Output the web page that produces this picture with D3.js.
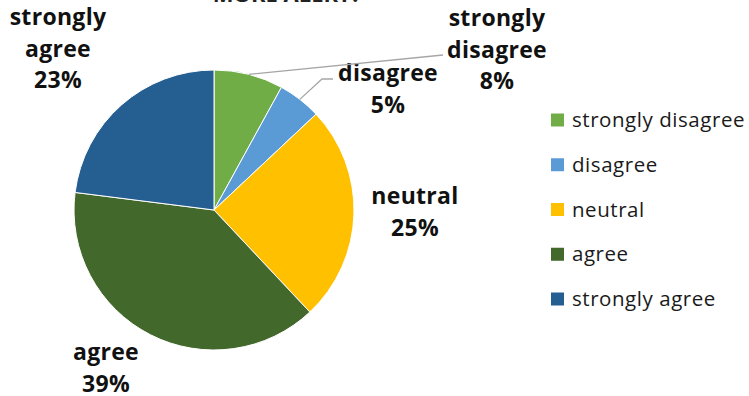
<!DOCTYPE html>
<html>
<head>
<meta charset="utf-8">
<script src="https://cdn.jsdelivr.net/npm/d3@7/dist/d3.min.js"></script>
<style>
  html, body { margin: 0; padding: 0; background: #fff; }
  svg { display: block; }
  text { font-family: "Open Sans", "Noto Sans", sans-serif; }
</style>
</head>
<body>
<svg id="chart" width="749" height="396"></svg>
<script>
// Survey responses
const categories = ["strongly disagree", "disagree", "neutral", "agree", "strongly agree"];
const values = [8, 5, 25, 39, 23];
const colors = ["#70AD47", "#5B9BD5", "#FFC000", "#43682B", "#255E91"];
const title = "MORE ALERT?";

const svg = d3.select("#chart");
const cx = 214, cy = 210, R = 140;

// Title (sits mostly above the top edge)
svg.append("text")
  .attr("x", 287).attr("y", 2)
  .attr("text-anchor", "middle")
  .attr("font-size", 22).attr("font-weight", 700)
  .attr("fill", "#222")
  .text(title);

const data = categories.map((c, i) => ({ name: c, value: values[i], color: colors[i] }));
const pie = d3.pie().sort(null).value(d => d.value);
const arcs = pie(data);
const arc = d3.arc().innerRadius(0).outerRadius(R);

const g = svg.append("g").attr("transform", `translate(${cx},${cy})`);
g.selectAll("path.slice")
  .data(arcs)
  .join("path")
  .attr("class", "slice")
  .attr("d", arc)
  .attr("fill", d => d.data.color)
  .attr("stroke", "#fff")
  .attr("stroke-width", 1);

// Data label placement (centre of the first line of each label block)
const labelPos = {
  "strongly disagree": { x: 497, y: 18, lines: ["strongly", "disagree"] },
  "disagree": { x: 388, y: 73, lines: ["disagree"] },
  "neutral": { x: 415, y: 196, lines: ["neutral"] },
  "agree": { x: 106, y: 352, lines: ["agree"] },
  "strongly agree": { x: 58, y: 17, lines: ["strongly", "agree"] }
};
const lineH = 31.5;

arcs.forEach(a => {
  const p = labelPos[a.data.name];
  const t = svg.append("text")
    .attr("text-anchor", "middle")
    .attr("font-size", 23).attr("font-weight", 700)
    .attr("letter-spacing", 0.3)
    .attr("fill", "#111");
  const lines = p.lines.concat([a.data.value + "%"]);
  lines.forEach((ln, i) => {
    t.append("tspan")
      .attr("x", p.x)
      .attr("y", p.y + i * lineH)
      .attr("dy", "0.35em")
      .text(ln);
  });
});

// Leader lines for the two narrow slices
const edgePoint = a => {
  const m = (a.startAngle + a.endAngle) / 2;
  return [cx + R * Math.sin(m), cy - R * Math.cos(m)];
};
const leaders = [
  { slice: arcs[0], pts: [[443, 55]] },
  { slice: arcs[1], pts: [[322, 79], [333, 79]] }
];
leaders.forEach(l => {
  const pts = [edgePoint(l.slice)].concat(l.pts);
  svg.append("path")
    .attr("d", d3.line()(pts))
    .attr("fill", "none")
    .attr("stroke", "#A6A6A6")
    .attr("stroke-width", 1.3);
});

// Legend
const lg = svg.append("g");
const rowY = d3.scalePoint().domain(categories).range([120, 299]);
const rows = lg.selectAll("g.row").data(data).join("g")
  .attr("class", "row")
  .attr("transform", d => `translate(551,${rowY(d.name)})`);
rows.append("rect")
  .attr("x", 0).attr("y", -6.5).attr("width", 13).attr("height", 13)
  .attr("fill", d => d.color);
rows.append("text")
  .attr("x", 21).attr("y", 0).attr("dy", "0.35em")
  .attr("font-size", 20.5).attr("letter-spacing", 0.55)
  .attr("fill", "#1a1a1a")
  .text(d => d.name);
</script>
</body>
</html>
